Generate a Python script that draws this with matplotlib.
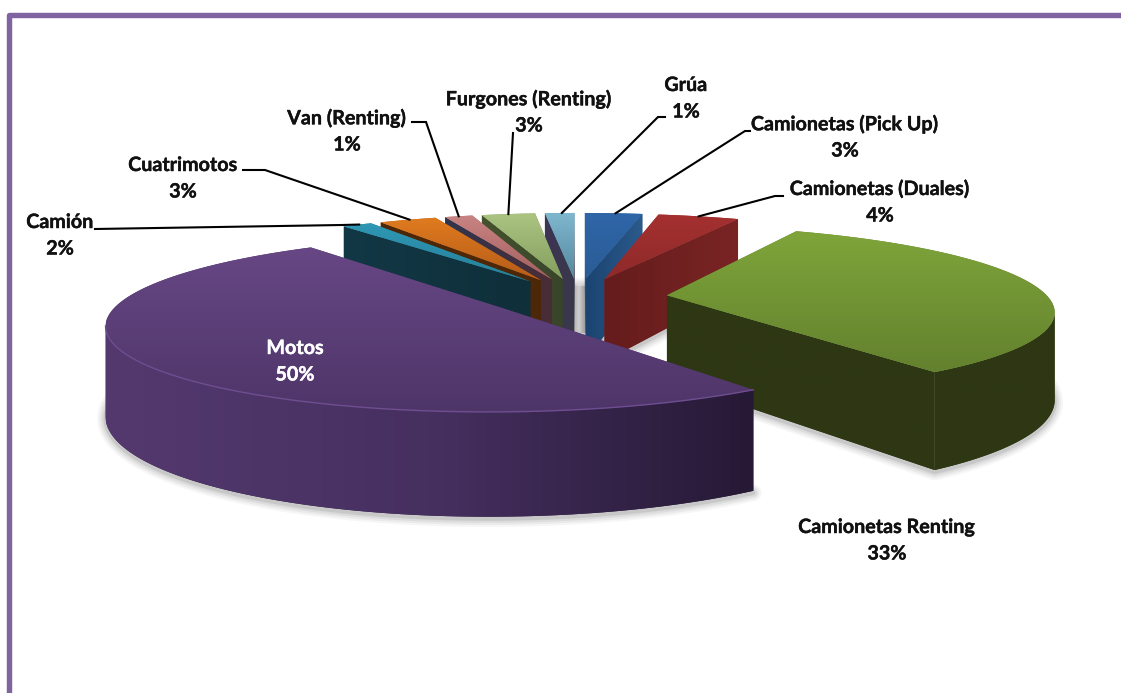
import numpy as np
import matplotlib
matplotlib.use("Agg")
import matplotlib.pyplot as plt
import matplotlib.patheffects as pe
from matplotlib.patches import Polygon
from matplotlib.colors import LinearSegmentedColormap

# --- data (clockwise from 12 o'clock) ---
names = ["Camionetas (Pick Up)", "Camionetas (Duales)", "Camionetas Renting", "Motos",
         "Camión", "Cuatrimotos", "Van (Renting)", "Furgones (Renting)", "Grúa"]
values = [2.9, 4.1, 33.1, 49.7, 1.5, 2.9, 1.4, 2.7, 1.49]

# --- style per slice ---
top_hi = ["#2F66A8", "#A53030", "#7FA53A", "#674785", "#2E98B5", "#E07B1F", "#C88482", "#ABC482", "#80B8D0"]
top_lo = ["#2A5C96", "#8E2A2A", "#63812E", "#4E3568", "#26809A", "#B45C19", "#A45F60", "#849E5E", "#55899E"]
wall_lo = ["#1B4470", "#651C1C", "#2E3713", "#54396F", "#123845", "#4C2708", "#2F3550", "#45532F", "#3E3555"]
wall_hi = ["#2B5A8C", "#7A2424", "#2E3713", "#261935", "#0F2F3A", "#4C2708", "#4A2D35", "#38452A", "#37384A"]
wall_mid = {3: "#463060"}
order = [8, 7, 6, 5, 4, 0, 1, 2, 3]

label_pos = {0: (845, 124), 1: (880, 189), 2: (887, 527), 3: (295, 348), 4: (60, 222),
             5: (183, 165), 6: (347, 118), 7: (529, 99), 8: (686, 85)}
leader_path = {0: [(750, 131), (745, 131)], 1: [(783, 196), (775, 196)],
               4: [(95, 229), (342, 225)], 5: [(243, 170), (265, 170)],
               6: [(412, 122), (426, 122)], 7: [(513, 133)], 8: [(665, 117), (658, 117)]}

# --- projection ---
X0, Y0, SX, SY, K, H, EXPL = 578.0, 297.0, 381.0, 82.0, 0.166, 85.0, 0.235


def project(px, py, z=0.0):
    w = 1 + K * py
    return X0 + SX * px / w, Y0 - SY * py / w + z * H / w


fig = plt.figure(figsize=(11.21, 6.93), dpi=100, facecolor="white")
ax = fig.add_axes([0, 0, 1, 1])
ax.set_axis_off()

total = sum(values)
edges = np.cumsum([0] + values) / total * 2 * np.pi
zc = [10]


def nz():
    zc[0] += 1
    return zc[0]


def gradient_fill(xs, ys, colors, vertical=False):
    """Filled polygon shaded along x, or along y when vertical."""
    poly = Polygon(np.c_[xs, ys], closed=True, fc=colors[-1], ec="none", zorder=nz())
    ax.add_patch(poly)
    grad = np.linspace(0, 1, 256)
    grad = grad.reshape(-1, 1) if vertical else grad.reshape(1, -1)
    cmap = LinearSegmentedColormap.from_list("w", colors)
    im = ax.imshow(grad, extent=[np.min(xs), np.max(xs), np.max(ys), np.min(ys)],
                   aspect="auto", cmap=cmap, zorder=nz(), interpolation="bilinear")
    im.set_clip_path(poly)


slices = []
for i in range(len(values)):
    a0, a1 = edges[i], edges[i + 1]
    mid = (a0 + a1) / 2
    ax_, ay_ = EXPL * np.sin(mid), EXPL * np.cos(mid)
    th = np.linspace(a0, a1, max(6, int((a1 - a0) * 90)))
    slices.append(dict(apex=(ax_, ay_), th=th, rx=ax_ + np.sin(th), ry=ay_ + np.cos(th), mid=mid))

# soft shadow under the pie
for s in slices:
    bx, by = project(np.r_[s["apex"][0], s["rx"]], np.r_[s["apex"][1], s["ry"]], 1.0)
    for lw, al in [(12, .05), (9, .07), (6, .09), (3, .14)]:
        ax.add_patch(Polygon(np.c_[bx, by + 2], closed=True, fc="none", ec="#555555", lw=lw,
                             alpha=al, joinstyle="round", zorder=1))

# grey gap seen between the front slices
ax.imshow(np.linspace(0, 1, 32).reshape(1, -1), extent=[572, 586, 333, 286], aspect="auto", zorder=2,
          cmap=LinearSegmentedColormap.from_list("g", ["#A8A8A8", "#CFCFCF", "#969696"]))

for i in order:
    s = slices[i]
    ax_, ay_ = s["apex"]
    sx_a, sy_a = project(ax_, ay_)
    k_mid = len(s["th"]) // 2
    cx, cy = project(s["rx"][k_mid], s["ry"][k_mid])
    stops = [wall_lo[i], wall_mid[i], wall_hi[i]] if i in wall_mid else [wall_lo[i], wall_hi[i]]
    # radial walls
    for k in (0, -1):
        ex, ey = project(s["rx"][k], s["ry"][k])
        if abs(ex - sx_a) < 1e-6:
            continue
        yl = sy_a + (ey - sy_a) * (cx - sx_a) / (ex - sx_a)
        if cy < yl:
            ebx, eby = project(s["rx"][k], s["ry"][k], 1)
            abx, aby = project(ax_, ay_, 1)
            gradient_fill([sx_a, ex, ebx, abx], [sy_a, ey, eby, aby], stops)
    # outer wall, between the silhouette points of the rim
    idx = np.where(np.cos(s["th"]) < 0.2)[0]
    if len(idx) > 1:
        sx_all = project(s["rx"][idx], s["ry"][idx])[0]
        idx = idx[np.argmax(sx_all):np.argmin(sx_all) + 1]
        sx_t, sy_t = project(s["rx"][idx], s["ry"][idx], 0)
        sx_b, sy_b = project(s["rx"][idx], s["ry"][idx], 1)
        gradient_fill(np.r_[sx_t, sx_b[::-1]], np.r_[sy_t, sy_b[::-1]], stops)
    # top face with a vertical gradient
    tx, ty = project(np.r_[ax_, s["rx"]], np.r_[ay_, s["ry"]])
    gradient_fill(tx, ty, [top_hi[i], top_lo[i]], vertical=True)
    if i == 3:
        ax.plot(*project(s["rx"][idx], s["ry"][idx]), color="#6E4E90", lw=1.0, zorder=nz())

# labels and leaders
for i, name in enumerate(names):
    x, y = label_pos[i]
    col = "white" if i == 3 else "#111111"
    for txt, yy in ((name, y), (f"{round(values[i])}%", y + 26.5)):
        t = ax.text(x, yy, txt, ha="center", va="center", color=col, family="Lato", fontweight="bold",
                    fontsize=14.2, zorder=500)
        t.set_path_effects([pe.withStroke(linewidth=0.3, foreground=col)])
    if i in leader_path:
        s = slices[i]
        k = len(s["th"]) // 2
        ex, ey = project(s["rx"][k], s["ry"][k])
        pts = leader_path[i] + [(ex, ey)]
        ax.plot(*zip(*pts), color="black", lw=1.5, zorder=400, solid_joinstyle="miter")

# purple frame
ax.plot([8.5, 8.5, 1125], [700, 14.5, 14.5], color="#8064A2", lw=3.9, solid_joinstyle="round", zorder=600)

ax.set_xlim(0, 1121)
ax.set_ylim(693, 0)
fig.savefig("out.png", dpi=100, facecolor="white")
